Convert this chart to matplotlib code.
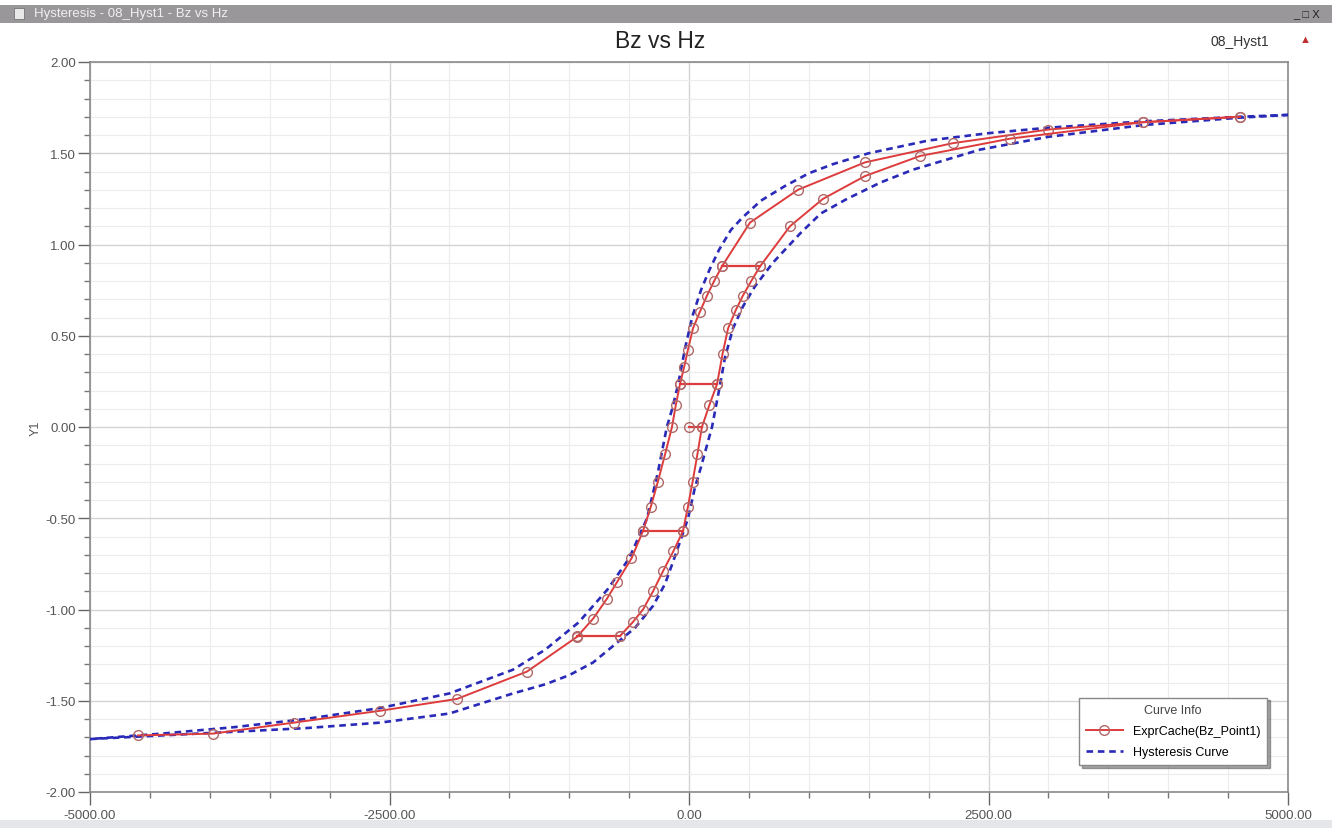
import numpy as np
import matplotlib.pyplot as plt
from matplotlib.ticker import MultipleLocator, FormatStrFormatter
from matplotlib.patches import Rectangle

plt.rcParams['font.family'] = ['Liberation Sans', 'DejaVu Sans']

# blue dashed major loop, descending branch (from +Hmax to -Hmax)
desc_h = [5000, 4600, 3800, 3000, 2500, 2000, 1500, 1200, 1000, 800, 600, 450, 350, 250, 170, 100, 30,
          -30, -92, -140, -185, -260, -350, -500, -680, -920, -1200, -1470, -2000, -2580, -3200,
          -3800, -4400, -5000]
desc_b = [1.71, 1.70, 1.675, 1.64, 1.61, 1.57, 1.50, 1.44, 1.39, 1.32, 1.24, 1.15, 1.08, 0.97, 0.86, 0.75, 0.61,
          0.44, 0.23, 0.10, 0.0, -0.25, -0.50, -0.72, -0.89, -1.07, -1.22, -1.33, -1.46, -1.54, -1.60,
          -1.645, -1.68, -1.71]

# blue dashed major loop, ascending branch
asc_h = [-5000, -4400, -3800, -3200, -2580, -2000, -1470, -1200, -1000, -800, -634, -450, -300, -200,
         -134, -60, -8, 50, 100, 150, 192, 259, 300, 367, 450, 550, 700, 927, 1100, 1319, 1600, 1870,
         2430, 3000, 3800, 4600, 5000]
asc_b = [-1.71, -1.69, -1.67, -1.65, -1.62, -1.57, -1.46, -1.41, -1.36, -1.29, -1.20, -1.10, -0.98, -0.86,
         -0.74, -0.60, -0.50, -0.33, -0.22, -0.10, 0.0, 0.23, 0.38, 0.54, 0.66, 0.77, 0.90, 1.06, 1.17,
         1.25, 1.34, 1.41, 1.52, 1.59, 1.655, 1.695, 1.71]

# red ExprCache(Bz_Point1) trace: left (upper) branch
red_left_h = [4600, 3790, 3000, 2200, 1469, 910, 509, 275, 210, 150, 90, 33, -10, -40, -75, -110, -142,
              -200, -260, -320, -384, -480, -601, -684, -800, -935, -1352, -1937, -2579, -3300, -3973, -4600]
red_left_b = [1.70, 1.67, 1.63, 1.555, 1.45, 1.30, 1.12, 0.88, 0.80, 0.72, 0.63, 0.54, 0.42, 0.33, 0.235,
              0.12, 0.0, -0.15, -0.30, -0.44, -0.57, -0.72, -0.85, -0.94, -1.05, -1.15, -1.34, -1.49,
              -1.555, -1.62, -1.68, -1.69]

# red trace: right (lower) branch
red_right_h = [-576, -470, -384, -300, -217, -130, -50, -10, 30, 70, 108, 170, 234, 280, 326, 390, 450,
               520, 593, 843, 1118, 1469, 1928, 2680, 3790, 4600]
red_right_b = [-1.145, -1.07, -1.00, -0.90, -0.79, -0.68, -0.57, -0.44, -0.30, -0.15, 0.0, 0.12, 0.235,
               0.40, 0.54, 0.64, 0.72, 0.80, 0.88, 1.10, 1.25, 1.375, 1.485, 1.58, 1.67, 1.70]

# horizontal steps of the red trace
step_b = [0.88, 0.235, 0.0, -0.57, -1.145]
step_h_left = [275, -75, 0, -384, -935]
step_h_right = [593, 234, 108, -50, -576]

red = '#de3c3c'
blue = '#2a2ab8'

fig = plt.figure(figsize=(13.32, 8.29), dpi=100)
ax = fig.add_axes([90 / 1332, 1 - 793 / 829, 1198 / 1332, 730 / 829])

# window chrome
fig.patches.append(Rectangle((0, 1 - 24 / 829), 1, 18 / 829, transform=fig.transFigure,
                             facecolor='#9a979a', edgecolor='none', zorder=0))
fig.text(34 / 1332, 1 - 14 / 829, 'Hysteresis - 08_Hyst1 - Bz vs Hz', color='#f0f0f0',
         fontsize=9.5, va='center')
fig.patches.append(Rectangle((14 / 1332, 1 - 20 / 829), 10 / 1332, 11 / 829, transform=fig.transFigure,
                             facecolor='#e8e8e8', edgecolor='#666666', lw=0.5, zorder=1))
fig.text(1293 / 1332, 1 - 14 / 829, '_ □ X', color='#222222', fontsize=8, va='center')
fig.patches.append(Rectangle((0, 0), 1, 8 / 829, transform=fig.transFigure,
                             facecolor='#e4e6ea', edgecolor='none', zorder=0))

mk = dict(marker='o', ms=7, mfc='none', mec='#b06868', mew=1.0)
h_red, = ax.plot(red_left_h, red_left_b, color=red, lw=1.4, label='ExprCache(Bz_Point1)', zorder=4, **mk)
ax.plot(red_right_h, red_right_b, color=red, lw=1.4, zorder=4, **mk)
for b, h0, h1 in zip(step_b, step_h_left, step_h_right):
    ax.plot([h0, h1], [b, b], color=red, lw=1.6, zorder=4, **mk)

h_blue, = ax.plot(desc_h, desc_b, color=blue, lw=1.9, ls=(0, (2.5, 1.8)), label='Hysteresis Curve', zorder=3)
ax.plot(asc_h, asc_b, color=blue, lw=1.9, ls=(0, (2.5, 1.8)), zorder=3)

ax.set_xlim(-5000, 5000)
ax.set_ylim(-2, 2)
ax.xaxis.set_major_locator(MultipleLocator(2500))
ax.xaxis.set_minor_locator(MultipleLocator(500))
ax.yaxis.set_major_locator(MultipleLocator(0.5))
ax.yaxis.set_minor_locator(MultipleLocator(0.1))
ax.xaxis.set_major_formatter(FormatStrFormatter('%.2f'))
ax.yaxis.set_major_formatter(FormatStrFormatter('%.2f'))
ax.tick_params(which='major', length=9, width=1, color='#666666', labelsize=9.5,
               labelcolor='#555555', direction='out', pad=3)
ax.tick_params(axis='y', which='major', pad=1)
ax.tick_params(which='minor', length=4, width=1, color='#777777', direction='out')
ax.grid(which='major', color='#d4d4d4', lw=1)
ax.grid(which='minor', color='#ececec', lw=0.8)
ax.set_axisbelow(True)
for s in ax.spines.values():
    s.set_color('#8a8a8a')
    s.set_linewidth(1.2)

ax.set_ylabel('Y1', fontsize=9, color='#555555', labelpad=3)
fig.text(660 / 1332, 1 - 42 / 829, 'Bz vs Hz', fontsize=16.5, ha='center', va='center', color='#222222')
fig.text(1240 / 1332, 1 - 42 / 829, '08_Hyst1', fontsize=10, ha='center', va='center', color='#333333')
fig.text(1305 / 1332, 1 - 40 / 829, '▲', fontsize=8, ha='center', va='center', color='#c03030')

leg = ax.legend(handles=[h_red, h_blue], title='Curve Info', loc='lower right',
                bbox_to_anchor=(1273 / 1332, 1 - 772 / 829), bbox_transform=fig.transFigure,
                fontsize=9, title_fontsize=9, fancybox=False, shadow=True, framealpha=1,
                edgecolor='#888888', handlelength=3, borderpad=0.5, labelspacing=0.75)
leg.get_title().set_color('#444444')

fig.savefig('out.png', dpi=100)
